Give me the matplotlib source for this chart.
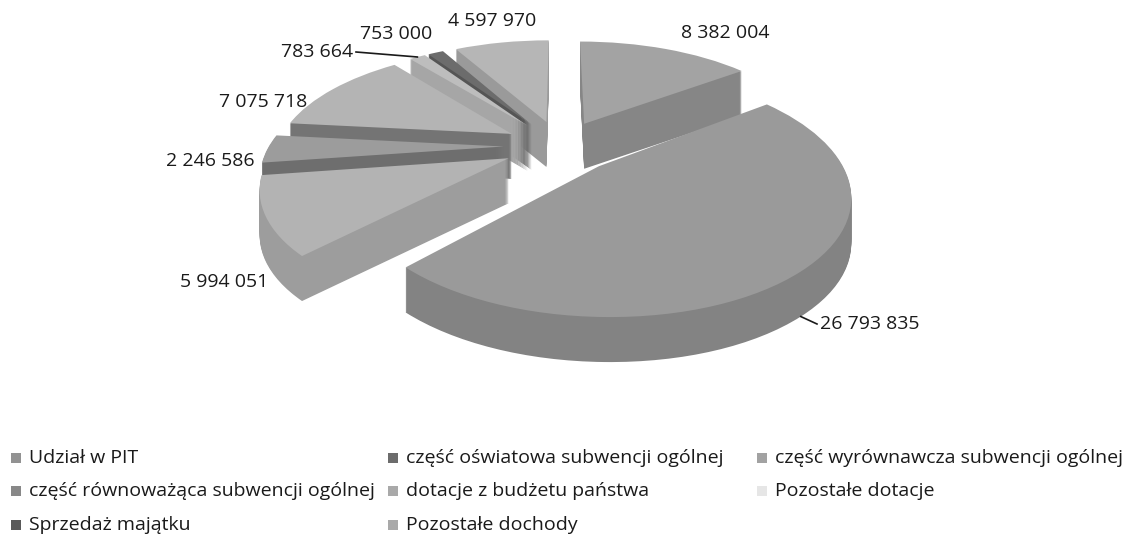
import numpy as np
import matplotlib
matplotlib.use("Agg")
import matplotlib.pyplot as plt
from matplotlib.patches import Rectangle
from matplotlib.transforms import Transform, Affine2D

CATEGORIES = [
    "Udział w PIT",
    "część oświatowa subwencji ogólnej",
    "część wyrównawcza subwencji ogólnej",
    "część równoważąca subwencji ogólnej",
    "dotacje z budżetu państwa",
    "Pozostałe dotacje",
    "Sprzedaż majątku",
    "Pozostałe dochody",
]
VALUES = [8382004, 26793835, 5994051, 2246586, 7075718, 783664, 753000, 4597970]

TOP_COLORS = ["#a3a3a3", "#9a9a9a", "#b3b3b3", "#9c9c9c", "#b4b4b4", "#bdbdbd", "#6c6c6c", "#b6b6b6"]
SIDE_COLORS = ["#868686", "#838383", "#9d9d9d", "#6e6e6e", "#747474", "#a6a6a6", "#555555", "#9a9a9a"]
LEGEND_COLORS = ["#929292", "#6c6c6c", "#a2a2a2", "#888888", "#a9a9a9", "#e6e6e6", "#5a5a5a", "#a9a9a9"]

# value label anchors in pixels (x, y, ha)
LABEL_XY = [(725, 33, "center"), (820, 324, "left"), (268, 282, "right"), (255, 161, "right"),
            (307, 102, "right"), (353, 52, "right"), (396, 34, "center"), (492, 21, "center")]

W, H = 1135, 548
R = 255             # pie radius (plane units)
EXPLODE = 0.24 * R  # radial offset of every slice
DEPTH = 45          # thickness in pixels
N_LAYERS = 45
# simple perspective of the pie plane onto the page
PX, PY = 560, 146   # screen position of the pie centre (pixels from top-left)
FX, FY = 0.92, 0.425
K = 0.00084

FONT = ["Open Sans", "DejaVu Sans"]


def project(u, v):
    """plane (u right, v away from viewer) -> page pixels (x, y down)"""
    s = 1 + K * np.asarray(v, dtype=float)
    return PX + FX * np.asarray(u) / s, PY - FY * np.asarray(v) / s


class Perspective(Transform):
    input_dims = 2
    output_dims = 2
    is_separable = False

    def transform_non_affine(self, values):
        values = np.asarray(values, dtype=float)
        x, y = project(values[:, 0], values[:, 1])
        return np.column_stack([x, H - y])


def fmt(v):
    return f"{v:,}".replace(",", " ")


def main():
    fig = plt.figure(figsize=(W / 100, H / 100), dpi=100)
    ax = fig.add_axes([0, 0, 1, 1])

    values = np.array(VALUES, dtype=float)
    frac = values / values.sum()
    mids = np.radians(360 * (np.cumsum(frac) - frac / 2))  # clockwise from 12 o'clock
    # painter's order: back slices first
    order = np.argsort(-np.cos(mids))
    rank = np.empty(len(VALUES), dtype=int)
    rank[order] = np.arange(len(VALUES))

    persp = Perspective()
    for k in range(N_LAYERS + 1):
        top = k == N_LAYERS
        yoff = DEPTH * (N_LAYERS - k) / N_LAYERS
        wedges, _ = ax.pie(
            VALUES,
            explode=[EXPLODE] * len(VALUES),
            radius=R,
            center=(0, 0),
            startangle=90,
            counterclock=False,
            colors=TOP_COLORS if top else SIDE_COLORS,
            wedgeprops=dict(linewidth=0),
        )
        tr = persp + Affine2D().translate(0, -yoff) + ax.transData
        for i, w in enumerate(wedges):
            w.set_transform(tr)
            w.set_zorder(rank[i] * 100 + k + 1)

    ax.set_aspect("auto")
    ax.set_xlim(0, W)
    ax.set_ylim(0, H)
    ax.axis("off")

    for i, v in enumerate(VALUES):
        lx, ly, ha = LABEL_XY[i]
        ax.text(lx, H - ly, fmt(v), ha=ha, va="center", fontsize=14,
                family=FONT, color="#1a1a1a", zorder=2000)

    # leader lines from two labels to their slices
    s = EXPLODE + R
    for i, drop in [(5, 0), (1, DEPTH)]:
        lx, ly, ha = LABEL_XY[i]
        ex, ey = project(s * np.sin(mids[i]), s * np.cos(mids[i]))
        tx = lx + (3 if ha == "right" else -3)
        ax.plot([tx, ex], [H - ly, H - (ey + drop)], color="#1a1a1a", lw=1.2, zorder=1999)

    # legend, row-major like the original
    col_x = [11, 388, 757]
    row_y = [458, 491, 525]
    for i, name in enumerate(CATEGORIES):
        c, r = i % 3, i // 3
        ax.add_patch(Rectangle((col_x[c], H - row_y[r] - 5), 10, 10,
                               facecolor=LEGEND_COLORS[i], edgecolor="none", zorder=2000))
        ax.text(col_x[c] + 18, H - row_y[r], name, ha="left", va="center",
                fontsize=14, family=FONT, color="#1a1a1a", zorder=2000)

    fig.savefig("out.png", dpi=100, facecolor="white")


if __name__ == "__main__":
    main()
